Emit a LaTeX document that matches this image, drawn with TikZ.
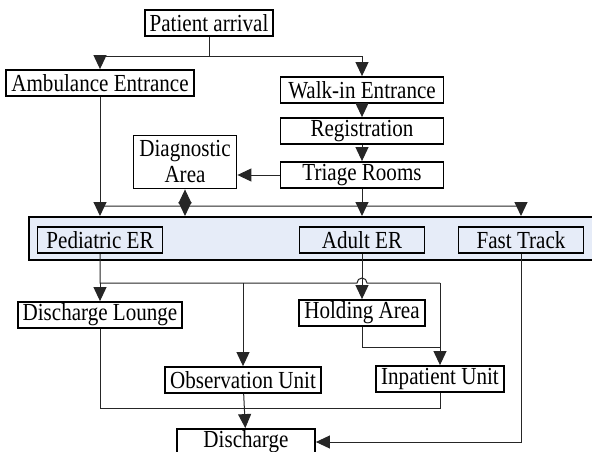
\documentclass[tikz,border=0pt]{standalone}
\usepackage{fontspec}
\setmainfont[FakeStretch=0.86]{Liberation Serif}
\usetikzlibrary{arrows.meta,calc}

\definecolor{erblue}{HTML}{E6ECF8}

\tikzset{
  box/.style={draw, line width=1.8pt, fill=white, inner xsep=5pt, inner ysep=1.5pt,
              minimum height=26pt, font=\fontsize{24.5}{26}\selectfont},
  erbox/.style={box, fill=erblue, minimum width=125pt},
  line/.style={draw=black!85, line width=1pt},
  flow/.style={line, -{Triangle[length=14pt,width=13pt]}},
  dflow/.style={line, {Triangle[length=14pt,width=13pt]}-{Triangle[length=14pt,width=13pt]}}
}

\begin{document}
\begin{tikzpicture}[x=1pt, y=-1pt]
\useasboundingbox (0,0) rectangle (592,452);

% ER band
\node[draw, line width=2pt, fill=erblue, minimum width=566pt, minimum height=43pt,
      inner sep=0pt] (erband) at (312,238.5) {};

% Arrival and entrances
\node[box] (arrival) at (209,23) {Patient arrival};
\node[box] (amb) at (100,83) {Ambulance Entrance};
\node[box, minimum width=163pt] (walkin) at (362,90) {Walk-in Entrance};
\node[box, minimum width=163pt] (reg) at (362,131) {Registration};
\node[box, minimum width=163pt] (triage) at (362,175) {Triage Rooms};
\node[box, align=center, minimum width=103pt, minimum height=53pt] (diag) at (185,162) {Diagnostic\\Area};

% Emergency rooms
\node[erbox] (ped) at (100,240) {Pediatric ER};
\node[erbox] (adult) at (362,240) {Adult ER};
\node[erbox] (fast) at (521,240) {Fast Track};

% Units
\node[box] (lounge) at (100,315) {Discharge Lounge};
\node[box, minimum width=124pt] (hold) at (362,313) {Holding Area};
\node[box] (obs) at (243,380) {Observation Unit};
\node[box] (inpat) at (440,379) {Inpatient Unit};
\node[box, minimum width=138pt] (dis) at (246,442) {Discharge};

% junction rows
\coordinate (rowT) at (0,57);
\coordinate (rowA) at (0,206);
\coordinate (rowB) at (0,283);
\coordinate (rowC) at (0,347);
\coordinate (rowD) at (0,408);

% Arrival split
\draw[line] (arrival) -- (arrival |- rowT);
\draw[flow] (arrival |- rowT) -| (amb);
\draw[flow] (arrival |- rowT) -| (walkin);

% Walk-in path
\draw[flow] (walkin) -- (reg);
\draw[flow] (reg) -- (triage);
\draw[flow] (triage.west) -- (triage.west -| diag.east);

% Into the ER band
\draw[flow] (amb) -- (amb |- erband.north);
\draw[flow] (triage) -- (triage |- erband.north);
\draw[flow] (amb |- rowA) -- ($(diag |- rowA)+(-4,0)$)
    arc[start angle=180, end angle=0, radius=4pt] -- (fast |- rowA) -- (fast |- erband.north);
\draw[dflow] (diag) -- (diag |- erband.north);

% Out of the ER band
\draw[line] (ped) -- (ped |- rowB) -- ($(adult |- rowB)+(-5,0)$)
    arc[start angle=180, end angle=0, radius=5pt] -- (inpat |- rowB);
\draw[flow] (ped |- rowB) -- (lounge);
\draw[flow] (obs |- rowB) -- (obs);
\draw[flow] (inpat |- rowB) -- (inpat);
\draw[flow] (adult) -- (hold);
\draw[line] (hold) -- (hold |- rowC) -- (inpat |- rowC);

% Discharge
\draw[line] (lounge) -- (lounge |- rowD) -- (inpat |- rowD) -- (inpat);
\draw[flow] (obs) -- (dis);
\draw[flow] (fast) |- (dis);

\end{tikzpicture}
\end{document}
